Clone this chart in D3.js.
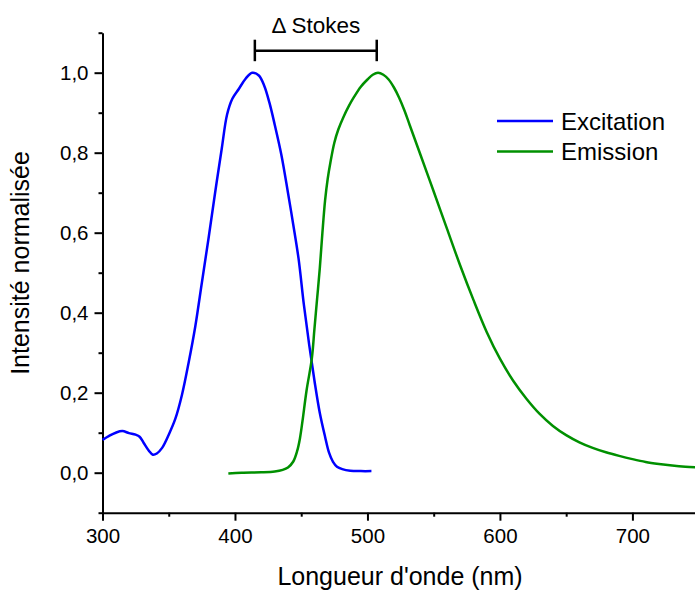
<!DOCTYPE html>
<html>
<head>
<meta charset="utf-8">
<script src="https://cdn.jsdelivr.net/npm/d3@7"></script>
<style>
  body { margin: 0; background: #fff; }
  text { font-family: "Liberation Sans", Arial, sans-serif; fill: #000; }
</style>
</head>
<body>
<script>
// donnees (longueur d'onde nm, intensite normalisee)
var excWl = [300,305,310,315,320,325,328,331,335,338,341,345,350,355,360,365,370,375,380,385,390,394,398,403,408,413,418,422,426,430,435,440,444,448,452,456,460,464,468,471,474,477,481,487,495,503];
var excVal = [0.082,0.092,0.100,0.104,0.099,0.095,0.090,0.075,0.055,0.045,0.048,0.062,0.095,0.135,0.195,0.275,0.365,0.475,0.585,0.700,0.810,0.895,0.935,0.960,0.985,1.000,0.993,0.968,0.925,0.870,0.795,0.700,0.620,0.535,0.420,0.320,0.230,0.150,0.090,0.050,0.027,0.015,0.009,0.005,0.004,0.004];

var emWl = [395,405,420,430,436,440,444,447,449,451,454,458,460,462,464,466,468,470,472,475,478,482,486,490,495,500,504,508,512,516,520,524,528,532,540,550,560,570,580,590,600,610,620,630,640,650,660,670,680,690,700,710,720,730,740,748];
var emVal = [-0.002,0.0,0.001,0.003,0.007,0.013,0.028,0.055,0.085,0.13,0.205,0.285,0.36,0.435,0.51,0.60,0.68,0.735,0.775,0.825,0.858,0.89,0.917,0.94,0.965,0.983,0.995,1.0,0.995,0.983,0.963,0.937,0.905,0.868,0.795,0.703,0.610,0.518,0.432,0.352,0.285,0.23,0.185,0.147,0.117,0.094,0.076,0.062,0.051,0.042,0.034,0.027,0.022,0.018,0.015,0.0135];

var seriesNames = ["Excitation", "Emission"];
var seriesColors = ["#0000ff", "#009000"];
var stokesWl = [415, 507];

var xMajor = [300, 400, 500, 600, 700];
var xMinor = [350, 450, 550, 650];
var yMajor = [0, 0.2, 0.4, 0.6, 0.8, 1.0];
var yMinor = [-0.1, 0.1, 0.3, 0.5, 0.7, 0.9, 1.1];

var W = 695, H = 590;

var svg = d3.select("body").append("svg")
    .attr("width", W)
    .attr("height", H);

// echelles
var x = d3.scaleLinear().domain([300, 748]).range([102.5, 696]);
var y = d3.scaleLinear().domain([-0.1, 1.1]).range([512.7, 32.7]);

var fr = d3.formatLocale({decimal: ",", thousands: " ", grouping: [3], currency: ["", " €"]});
var fmt = fr.format(".1f");

// axes
var yAx = svg.append("g").attr("transform", "translate(" + x(300) + ",0)");
yAx.call(d3.axisLeft(y).tickValues(yMajor).tickSize(8).tickSizeOuter(0).tickPadding(6).tickFormat(fmt));
var yAxMin = svg.append("g").attr("transform", "translate(" + x(300) + ",0)");
yAxMin.call(d3.axisLeft(y).tickValues(yMinor).tickSize(4).tickSizeOuter(0).tickFormat(""));
yAxMin.select(".domain").remove();

var xAx = svg.append("g").attr("transform", "translate(0," + y(-0.1) + ")");
xAx.call(d3.axisBottom(x).tickValues(xMajor).tickSize(8).tickSizeOuter(0).tickPadding(8).tickFormat(d3.format("d")));
var xAxMin = svg.append("g").attr("transform", "translate(0," + y(-0.1) + ")");
xAxMin.call(d3.axisBottom(x).tickValues(xMinor).tickSize(4).tickSizeOuter(0).tickFormat(""));
xAxMin.select(".domain").remove();

svg.selectAll(".domain, .tick line").attr("stroke", "#000").attr("stroke-width", 2);
svg.selectAll(".tick text")
    .attr("font-family", "'Liberation Sans', Arial, sans-serif")
    .attr("font-size", 20.5)
    .attr("fill", "#000");

// titres des axes
svg.append("text")
    .attr("x", 400)
    .attr("y", 585)
    .attr("text-anchor", "middle")
    .attr("font-size", 25)
    .text("Longueur d'onde (nm)");

svg.append("text")
    .attr("transform", "translate(29,263) rotate(-90)")
    .attr("text-anchor", "middle")
    .attr("font-size", 25)
    .text("Intensité normalisée");

// courbes
var line = d3.line()
    .x(function(d) { return x(d[0]); })
    .y(function(d) { return y(d[1]); })
    .curve(d3.curveCatmullRom.alpha(0.5));

var excData = excWl.map(function(w, i) { return [w, excVal[i]]; });
var emData = emWl.map(function(w, i) { return [w, emVal[i]]; });

svg.append("path")
    .datum(excData)
    .attr("fill", "none")
    .attr("stroke", seriesColors[0])
    .attr("stroke-width", 2.5)
    .attr("d", line);

svg.append("path")
    .datum(emData)
    .attr("fill", "none")
    .attr("stroke", seriesColors[1])
    .attr("stroke-width", 2.5)
    .attr("d", line);

// legende
var leg = svg.append("g");
seriesNames.forEach(function(n, i) {
  var yy = 121 + i * 30.5;
  leg.append("line")
      .attr("x1", 497).attr("x2", 553)
      .attr("y1", yy).attr("y2", yy)
      .attr("stroke", seriesColors[i])
      .attr("stroke-width", 2.5);
  leg.append("text")
      .attr("x", 561)
      .attr("y", yy + 8.7)
      .attr("font-size", 24)
      .text(n);
});

// delta Stokes
var by = 50.7;
var st = svg.append("g").attr("stroke", "#000").attr("stroke-width", 2.5);
st.append("line").attr("x1", x(stokesWl[0])).attr("x2", x(stokesWl[1])).attr("y1", by).attr("y2", by);
st.append("line").attr("x1", x(stokesWl[0])).attr("x2", x(stokesWl[0])).attr("y1", by - 11).attr("y2", by + 10.5);
st.append("line").attr("x1", x(stokesWl[1])).attr("x2", x(stokesWl[1])).attr("y1", by - 11).attr("y2", by + 10.5);

svg.append("text")
    .attr("x", (x(stokesWl[0]) + x(stokesWl[1])) / 2)
    .attr("y", 33)
    .attr("text-anchor", "middle")
    .attr("font-family", "'Open Sans', sans-serif")
    .attr("font-size", 22.5)
    .text("Δ Stokes");
</script>
</body>
</html>
